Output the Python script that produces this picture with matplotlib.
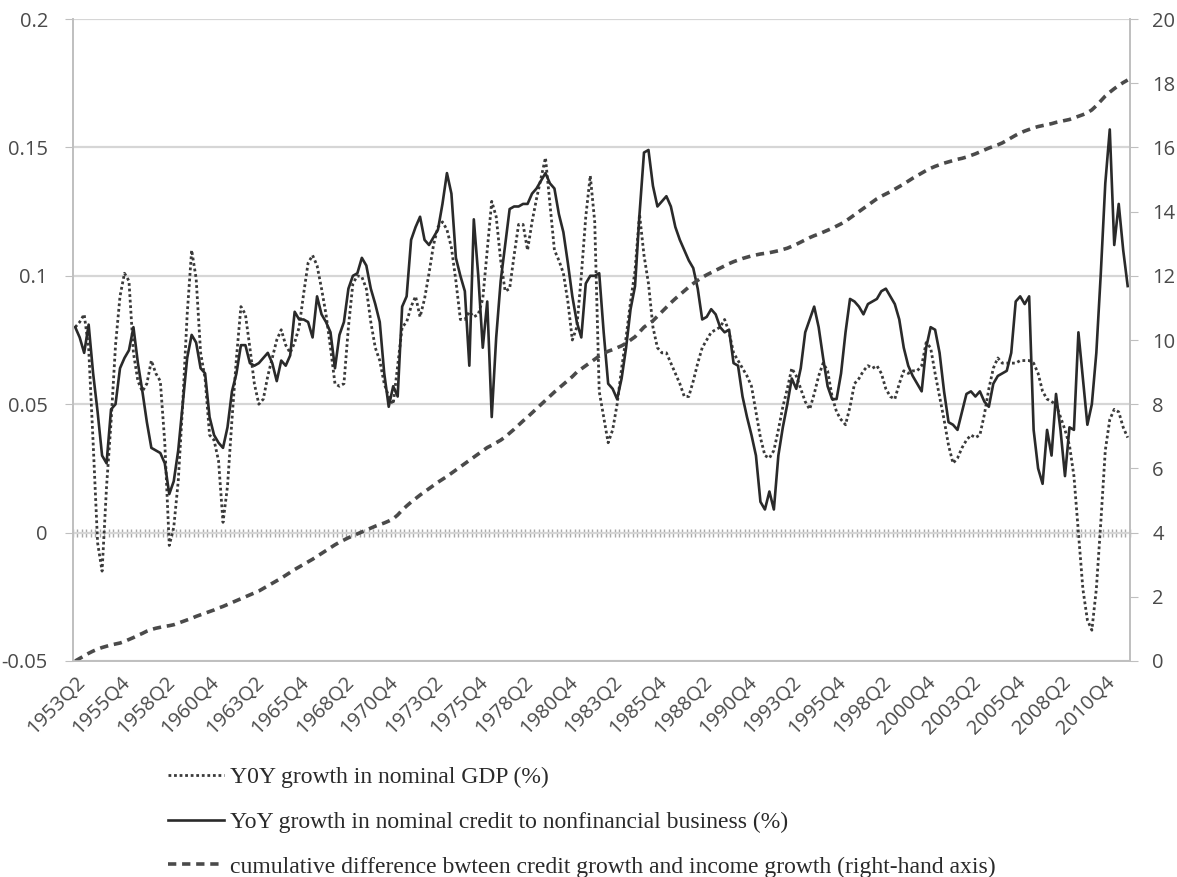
"""Credit growth vs nominal GDP growth, with cumulative gap on a right-hand axis."""

import matplotlib

matplotlib.use("Agg")
import matplotlib.pyplot as plt  # noqa: E402
import numpy as np  # noqa: E402

# quarterly observations, 1953Q2 .. 2012Q1
gdp_growth = [
    0.080, 0.082, 0.085, 0.072, 0.035, -0.004, -0.015, 0.018, 0.043, 0.073,
    0.092, 0.101, 0.098, 0.070, 0.059, 0.055, 0.058, 0.067, 0.062, 0.059,
    0.035, -0.005, 0.002, 0.020, 0.050, 0.085, 0.110, 0.099, 0.070, 0.060,
    0.038, 0.036, 0.028, 0.004, 0.018, 0.044, 0.068, 0.088, 0.085, 0.072,
    0.058, 0.050, 0.052, 0.061, 0.068, 0.075, 0.079, 0.073, 0.070, 0.074,
    0.080, 0.093, 0.105, 0.108, 0.104, 0.095, 0.085, 0.072, 0.058, 0.057,
    0.058, 0.080, 0.097, 0.100, 0.0996, 0.095, 0.082, 0.072, 0.067, 0.058,
    0.053, 0.050, 0.065, 0.080, 0.082, 0.088, 0.092, 0.084, 0.091, 0.101,
    0.112, 0.119, 0.121, 0.118, 0.111, 0.098, 0.083, 0.083, 0.086, 0.084,
    0.085, 0.091, 0.110, 0.129, 0.123, 0.106, 0.094, 0.095, 0.108, 0.120,
    0.120, 0.110, 0.121, 0.130, 0.138, 0.146, 0.128, 0.110, 0.106, 0.101,
    0.090, 0.075, 0.080, 0.100, 0.123, 0.139, 0.121, 0.055, 0.045, 0.035,
    0.040, 0.050, 0.064, 0.076, 0.090, 0.102, 0.124, 0.108, 0.097, 0.080,
    0.072, 0.070, 0.070, 0.066, 0.062, 0.058, 0.053, 0.053, 0.059, 0.066,
    0.072, 0.075, 0.078, 0.079, 0.080, 0.083, 0.078, 0.070, 0.067, 0.064,
    0.061, 0.057, 0.047, 0.037, 0.030, 0.029, 0.032, 0.040, 0.049, 0.056,
    0.064, 0.061, 0.056, 0.051, 0.048, 0.054, 0.061, 0.066, 0.063, 0.053,
    0.047, 0.044, 0.042, 0.049, 0.058, 0.060, 0.063, 0.065, 0.064, 0.065,
    0.062, 0.056, 0.053, 0.052, 0.058, 0.063, 0.062, 0.063, 0.063, 0.065,
    0.074, 0.072, 0.062, 0.053, 0.044, 0.034, 0.027, 0.029, 0.033, 0.036,
    0.038, 0.037, 0.038, 0.046, 0.056, 0.064, 0.068, 0.066, 0.066, 0.066,
    0.066, 0.067, 0.067, 0.067, 0.066, 0.062, 0.055, 0.052, 0.051, 0.050,
    0.045, 0.040, 0.034, 0.022, 0.000, -0.022, -0.034, -0.038, -0.022, 0.004,
    0.032, 0.044, 0.048, 0.047, 0.041, 0.037,
]

credit_growth = [
    0.080, 0.076, 0.070, 0.081, 0.062, 0.047, 0.030, 0.027, 0.048, 0.050,
    0.064, 0.068, 0.071, 0.080, 0.066, 0.055, 0.043, 0.033, 0.032, 0.031,
    0.027, 0.015, 0.020, 0.032, 0.050, 0.068, 0.077, 0.074, 0.064, 0.062,
    0.045, 0.038, 0.035, 0.033, 0.041, 0.055, 0.062, 0.073, 0.073, 0.066,
    0.065, 0.066, 0.068, 0.070, 0.066, 0.059, 0.067, 0.065, 0.069, 0.086,
    0.083, 0.083, 0.082, 0.076, 0.092, 0.085, 0.082, 0.078, 0.064, 0.077,
    0.082, 0.095, 0.100, 0.101, 0.107, 0.104, 0.095, 0.089, 0.082, 0.062,
    0.049, 0.057, 0.053, 0.088, 0.092, 0.114, 0.119, 0.123, 0.114, 0.112,
    0.115, 0.118, 0.128, 0.140, 0.132, 0.107, 0.100, 0.094, 0.065, 0.122,
    0.100, 0.072, 0.090, 0.045, 0.076, 0.098, 0.112, 0.126, 0.127, 0.127,
    0.128, 0.128, 0.132, 0.134, 0.137, 0.140, 0.136, 0.134, 0.124, 0.117,
    0.105, 0.092, 0.082, 0.076, 0.097, 0.100, 0.100, 0.101, 0.078, 0.058,
    0.056, 0.052, 0.060, 0.072, 0.087, 0.096, 0.124, 0.148, 0.149, 0.135,
    0.127, 0.129, 0.131, 0.127, 0.119, 0.114, 0.110, 0.106, 0.103, 0.095,
    0.083, 0.084, 0.087, 0.085, 0.080, 0.078, 0.079, 0.066, 0.065, 0.053,
    0.045, 0.038, 0.030, 0.012, 0.009, 0.016, 0.009, 0.030, 0.041, 0.050,
    0.060, 0.056, 0.064, 0.078, 0.083, 0.088, 0.080, 0.068, 0.057, 0.052,
    0.052, 0.062, 0.078, 0.091, 0.090, 0.088, 0.085, 0.089, 0.090, 0.091,
    0.094, 0.095, 0.092, 0.089, 0.083, 0.072, 0.065, 0.061, 0.058, 0.055,
    0.072, 0.080, 0.079, 0.070, 0.055, 0.043, 0.042, 0.040, 0.047, 0.054,
    0.055, 0.053, 0.055, 0.051, 0.049, 0.058, 0.061, 0.062, 0.063, 0.070,
    0.090, 0.092, 0.089, 0.092, 0.040, 0.025, 0.019, 0.040, 0.030, 0.054,
    0.040, 0.022, 0.041, 0.040, 0.078, 0.060, 0.042, 0.050, 0.070, 0.101,
    0.136, 0.157, 0.112, 0.128, 0.110, 0.096,
]

# cumulative difference between credit growth and income growth (right axis)
cum_gap = [
    0.00, 0.08, 0.16, 0.24, 0.31, 0.37, 0.42, 0.46, 0.50, 0.53,
    0.56, 0.61, 0.67, 0.73, 0.80, 0.86, 0.93, 0.98, 1.02, 1.05,
    1.08, 1.10, 1.13, 1.18, 1.23, 1.28, 1.33, 1.39, 1.44, 1.49,
    1.54, 1.59, 1.65, 1.70, 1.76, 1.82, 1.88, 1.94, 2.00, 2.06,
    2.12, 2.18, 2.26, 2.34, 2.42, 2.50, 2.58, 2.67, 2.76, 2.85,
    2.93, 3.01, 3.09, 3.17, 3.26, 3.35, 3.44, 3.53, 3.62, 3.70,
    3.77, 3.84, 3.90, 3.96, 4.02, 4.08, 4.14, 4.20, 4.25, 4.30,
    4.36, 4.43, 4.55, 4.70, 4.83, 4.95, 5.06, 5.17, 5.27, 5.37,
    5.47, 5.57, 5.66, 5.75, 5.85, 5.95, 6.05, 6.15, 6.25, 6.35,
    6.45, 6.55, 6.65, 6.72, 6.80, 6.88, 6.98, 7.10, 7.22, 7.35,
    7.48, 7.60, 7.73, 7.86, 7.99, 8.12, 8.25, 8.38, 8.50, 8.62,
    8.74, 8.86, 9.00, 9.10, 9.20, 9.30, 9.40, 9.50, 9.58, 9.65,
    9.70, 9.76, 9.82, 9.90, 10.00, 10.10, 10.25, 10.40, 10.50, 10.60,
    10.74, 10.88, 11.02, 11.16, 11.29, 11.41, 11.53, 11.65, 11.76, 11.86,
    11.95, 12.03, 12.10, 12.17, 12.24, 12.31, 12.38, 12.44, 12.49, 12.54,
    12.58, 12.62, 12.65, 12.68, 12.70, 12.72, 12.75, 12.78, 12.82, 12.86,
    12.92, 12.98, 13.05, 13.12, 13.19, 13.25, 13.30, 13.36, 13.42, 13.48,
    13.55, 13.62, 13.70, 13.80, 13.90, 14.00, 14.10, 14.20, 14.30, 14.40,
    14.48, 14.55, 14.62, 14.70, 14.78, 14.86, 14.95, 15.04, 15.12, 15.20,
    15.28, 15.35, 15.41, 15.46, 15.51, 15.55, 15.59, 15.63, 15.66, 15.70,
    15.75, 15.80, 15.86, 15.92, 15.98, 16.03, 16.08, 16.14, 16.22, 16.30,
    16.38, 16.45, 16.51, 16.56, 16.61, 16.65, 16.68, 16.71, 16.74, 16.78,
    16.81, 16.84, 16.87, 16.92, 16.97, 17.02, 17.08, 17.17, 17.30, 17.45,
    17.60, 17.72, 17.83, 17.93, 18.02, 18.10,
]

n = len(gdp_growth)
quarters = [f"{1953 + (k + 1) // 4}Q{(k + 1) % 4 + 1}" for k in range(n)]
left_ticks = [-0.05, 0, 0.05, 0.1, 0.15, 0.2]
left_labels = ["-0.05", "0", "0.05", "0.1", "0.15", "0.2"]
right_ticks = list(range(0, 21, 2))

labels = [
    "Y0Y growth in nominal GDP (%)",
    "YoY growth in nominal credit to nonfinancial business (%)",
    "cumulative difference bwteen credit growth and income growth (right-hand axis)",
]

grey = "#bfbfbf"
text_c = "#4a4a4a"
tick_font = "Open Sans"

fig = plt.figure(figsize=(11.77, 8.77), dpi=100)
ax = fig.add_axes([0.062, 0.2463, 0.898, 0.7320])
ax2 = ax.twinx()

x = np.arange(n)
h1, = ax.plot(x, gdp_growth, color="#3a3a3a", lw=2.0, ls=(0, (1, 1)))
h2, = ax.plot(x, credit_growth, color="#2a2a2a", lw=1.9)
h3, = ax2.plot(x, cum_gap, color="#4a4a4a", lw=2.6, ls=(0, (2.3, 1.6)))

ax.set_xlim(-0.5, n - 0.5)
ax.set_ylim(-0.05, 0.2)
ax2.set_ylim(0, 20)

ax.set_yticks(left_ticks)
ax.set_yticklabels(left_labels)
ax.yaxis.grid(True, color="#d6d6d6", lw=1.6)
ax.set_axisbelow(True)
ax.tick_params(axis="y", length=6, color=grey, pad=12, labelsize=14.5,
               labelcolor=text_c)
ax2.set_yticks(right_ticks)
ax2.tick_params(axis="y", length=6, color=grey, pad=10, labelsize=14.5,
                labelcolor=text_c)

ax.set_xticks(x[::10])
ax.set_xticklabels(quarters[::10], rotation=45, ha="right", va="top",
                   rotation_mode="anchor")
ax.tick_params(axis="x", length=0, pad=8, labelsize=14.5, labelcolor=text_c)
for lab in ax.get_xticklabels() + ax.get_yticklabels() + ax2.get_yticklabels():
    lab.set_family(tick_font)

for a in (ax, ax2):
    a.spines["top"].set_visible(False)
    for side in ("left", "right", "bottom"):
        a.spines[side].set_color(grey)
        a.spines[side].set_linewidth(1.2)

# category axis crossing at zero, with a tick between every quarter
zero_axis = ax.secondary_xaxis(0.2)
zero_axis.set_xticks(np.arange(n + 1) - 0.5)
zero_axis.tick_params(axis="x", direction="inout", length=6, width=1,
                      color="#a8a8a8", labelbottom=False, labeltop=False)
zero_axis.spines["bottom"].set_color("#c4c4c4")
zero_axis.spines["bottom"].set_linewidth(1.4)

fig.legend([h1, h2, h3], labels, loc="upper left",
           bbox_to_anchor=(0.1325, 0.139), frameon=False, borderpad=0,
           handlelength=2.4, handletextpad=0.25, labelspacing=0.98,
           prop={"family": "Liberation Serif", "size": 17},
           labelcolor="#2a2a2a")

fig.savefig("out.png", dpi=100)
plt.close(fig)
